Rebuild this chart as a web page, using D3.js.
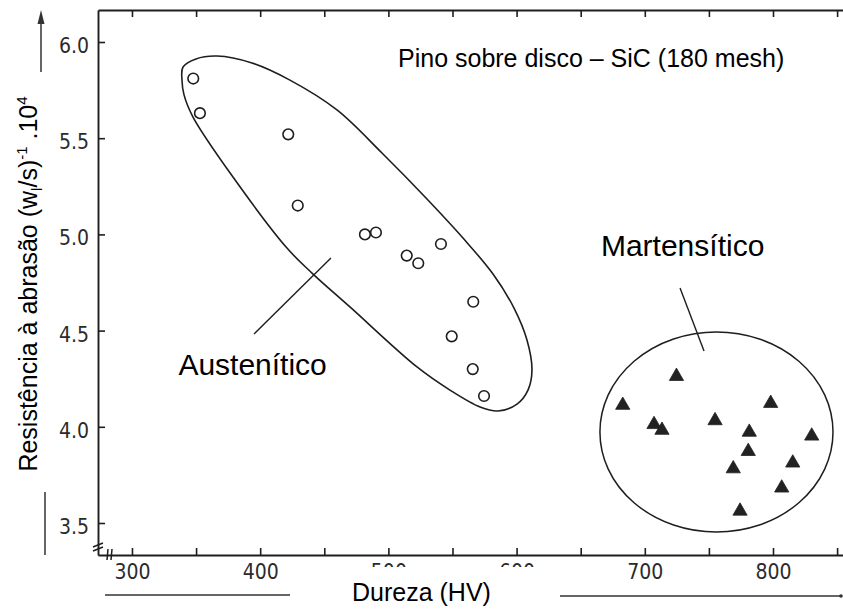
<!DOCTYPE html>
<html>
<head>
<meta charset="utf-8">
<script src="https://cdn.jsdelivr.net/npm/d3@7"></script>
<style>
  html, body { margin: 0; padding: 0; background: #fff; }
  svg { display: block; }
  .tick text { font-family: "Liberation Sans Narrow", "DejaVu Sans Condensed", "Arial Narrow", sans-serif; font-stretch: condensed; font-size: 21px; fill: #2b2b2b; }
  .lbl { font-family: "Liberation Sans", Arial, sans-serif; fill: #000; }
</style>
</head>
<body>
<svg id="chart" width="843" height="610"></svg>
<script>
// Hardness (HV) vs. abrasion resistance, pin-on-disc test with SiC 180 mesh
const hardnessTicks = [300, 350, 400, 450, 500, 550, 600, 650, 700, 750, 800, 850];
const hardnessLabels = [300, 400, 500, 600, 700, 800];
const resistTicks = [3.5, 4.0, 4.5, 5.0, 5.5, 6.0];

// Austenitic steels (open circles)
const austeniticHV  = [347.8, 353.0, 421.9, 429.3, 481.7, 490.3, 514.3, 523.3, 541.0, 566.2, 549.4, 565.8, 574.6];
const austeniticRes = [5.81, 5.63, 5.52, 5.15, 5.00, 5.01, 4.89, 4.85, 4.95, 4.65, 4.47, 4.30, 4.16];

// Martensitic steels (filled triangles)
const martensiticHV  = [724.7, 682.8, 707.2, 713.4, 754.8, 798.2, 781.5, 830.2, 780.7, 769.0, 815.4, 806.8, 774.3];
const martensiticRes = [4.27, 4.12, 4.02, 3.99, 4.04, 4.13, 3.98, 3.96, 3.88, 3.79, 3.82, 3.69, 3.57];

// Envelope around the austenitic group (HV, resistance), clockwise from the top-left end
const austEnvHV  = [339.8, 349.9, 366.3, 393.6, 423.2, 459.9, 495.0, 530.1, 558.2, 581.6, 598.0, 608.1, 612.0, 608.9, 600.3, 585.5, 571.5, 548.0, 522.3, 470.0, 440.4, 420.9, 378.8, 347.6, 340.6, 339.0];
const austEnvRes = [5.870, 5.912, 5.927, 5.891, 5.802, 5.647, 5.423, 5.184, 4.981, 4.794, 4.617, 4.451, 4.295, 4.191, 4.118, 4.082, 4.103, 4.191, 4.311, 4.623, 4.799, 4.929, 5.298, 5.610, 5.725, 5.802];

// Ellipse around the martensitic group: centre and half-axes in data units
const martEllipse = { hv: 755.9, res: 3.973, rHV: 90.9, rRes: 0.52 };

// Group labels with their leader lines (data units)
const groupNames = ["Austenítico", "Martensítico"];
const leaderHV  = [[395.2, 455.2], [727.5, 746.2]];
const leaderRes = [[4.482, 4.877], [4.721, 4.394]];
const labelHV  = [336.2, 665.8];
const labelRes = [4.27, 4.89];

const svg = d3.select("#chart");
const ink = "#1e1e1e";

const x = d3.scaleLinear().domain([273.5, 854.6]).range([98, 843]);
const y = d3.scaleLinear().domain([3.3337, 6.1663]).range([555, 10]);

// Axes: ticks point inward
const gLeft = svg.append("g").attr("transform", `translate(${x.range()[0]},0)`)
  .call(d3.axisLeft(y).tickValues(resistTicks).tickSize(-7).tickSizeOuter(0).tickPadding(9)
    .tickFormat(d3.format(".1f")));
gLeft.selectAll(".tick text").attr("dy", "0.5em");

svg.append("g").attr("transform", `translate(0,${y.range()[0]})`)
  .call(d3.axisBottom(x).tickValues(hardnessTicks).tickSize(-7).tickSizeOuter(0).tickPadding(9)
    .tickFormat(d => hardnessLabels.includes(d) ? d : ""));

svg.append("g").attr("transform", `translate(0,${y.range()[1]})`)
  .call(d3.axisTop(x).tickValues(hardnessTicks).tickSize(-7).tickSizeOuter(0).tickFormat(""));

svg.selectAll(".domain").attr("stroke", ink).attr("stroke-width", 1.9);
svg.selectAll(".tick line").attr("stroke", ink).attr("stroke-width", 1.6);

// Axis break marks at the origin corner
const x0 = x.range()[0], y0 = y.range()[0];
const brk = svg.append("g").attr("stroke", ink).attr("stroke-width", 1.5).attr("fill", "none");
brk.append("path").attr("d", `M${x0 - 5},${y0 - 8} L${x0 + 5},${y0 - 12} M${x0 - 5},${y0 - 4} L${x0 + 5},${y0 - 8}`);
brk.append("path").attr("d", `M${x0 + 10},${y0 - 6} L${x0 + 9},${y0 + 5} M${x0 + 14},${y0 - 6} L${x0 + 13},${y0 + 5}`);

// Austenitic envelope
const envPts = austEnvHV.map((h, i) => [x(h), y(austEnvRes[i])]);
svg.append("path")
  .attr("d", d3.line().curve(d3.curveCatmullRomClosed.alpha(0.5))(envPts))
  .attr("fill", "none").attr("stroke", ink).attr("stroke-width", 1.6);

// Martensitic ellipse
svg.append("ellipse")
  .attr("cx", x(martEllipse.hv)).attr("cy", y(martEllipse.res))
  .attr("rx", x(martEllipse.hv + martEllipse.rHV) - x(martEllipse.hv))
  .attr("ry", y(martEllipse.res - martEllipse.rRes) - y(martEllipse.res))
  .attr("fill", "none").attr("stroke", ink).attr("stroke-width", 1.5);

// Leader lines
leaderHV.forEach((hv, i) => {
  svg.append("line")
    .attr("x1", x(hv[0])).attr("y1", y(leaderRes[i][0]))
    .attr("x2", x(hv[1])).attr("y2", y(leaderRes[i][1]))
    .attr("stroke", ink).attr("stroke-width", 1.4);
});

// Austenitic points
svg.append("g").selectAll("circle")
  .data(austeniticHV.map((h, i) => [h, austeniticRes[i]]))
  .join("circle")
  .attr("cx", d => x(d[0])).attr("cy", d => y(d[1])).attr("r", 5.3)
  .attr("fill", "#fff").attr("stroke", ink).attr("stroke-width", 1.6);

// Martensitic points
const tri = d3.symbol().type(d3.symbolTriangle).size(88);
svg.append("g").selectAll("path")
  .data(martensiticHV.map((h, i) => [h, martensiticRes[i]]))
  .join("path")
  .attr("d", tri)
  .attr("transform", d => `translate(${x(d[0])},${y(d[1]) + 1.5})`)
  .attr("fill", "#222").attr("stroke", "#222").attr("stroke-width", 0.8);

// Group names
groupNames.forEach((name, i) => {
  svg.append("text").attr("class", "lbl")
    .attr("x", x(labelHV[i])).attr("y", y(labelRes[i]))
    .attr("font-size", 30).text(name);
});

// Title
svg.append("text").attr("class", "lbl")
  .attr("x", 398).attr("y", 67).attr("font-size", 25)
  .text("Pino sobre disco – SiC (180 mesh)");

// X-axis title, set on a white band
const xt = svg.append("g");
xt.append("rect").attr("x", 345).attr("y", 567).attr("width", 200).attr("height", 43).attr("fill", "#fff");
xt.append("text").attr("class", "lbl")
  .attr("x", 352).attr("y", 601).attr("font-size", 25).text("Dureza (HV)");

// Rules beside the x-axis title
svg.append("line").attr("x1", 105).attr("x2", 290).attr("y1", 595).attr("y2", 595)
  .attr("stroke", "#333").attr("stroke-width", 1.3);
svg.append("line").attr("x1", 560).attr("x2", 841).attr("y1", 596).attr("y2", 596)
  .attr("stroke", "#333").attr("stroke-width", 1.3);
svg.append("circle").attr("cx", 841).attr("cy", 596).attr("r", 1.8).attr("fill", "#333");

// Y-axis title with arrow above and rule below
const yt = svg.append("text").attr("class", "lbl")
  .attr("transform", "translate(37,284) rotate(-90)")
  .attr("text-anchor", "middle").attr("font-size", 25);
yt.append("tspan").text("Resistência à abrasão (w");
yt.append("tspan").attr("font-size", 15).attr("dy", 5).text("l");
yt.append("tspan").attr("dy", -5).text("/s)");
yt.append("tspan").attr("font-size", 15).attr("dy", -10).text("-1");
yt.append("tspan").attr("dy", 10).text(" .10");
yt.append("tspan").attr("font-size", 15).attr("dy", -10).text("4");

svg.append("line").attr("x1", 41).attr("x2", 41).attr("y1", 72).attr("y2", 22)
  .attr("stroke", "#333").attr("stroke-width", 1.5);
svg.append("path").attr("d", "M41,10 L37.5,24 L44.5,24 Z").attr("fill", "#333");
svg.append("line").attr("x1", 45).attr("x2", 45).attr("y1", 492).attr("y2", 555)
  .attr("stroke", "#333").attr("stroke-width", 1.5);
</script>
</body>
</html>
